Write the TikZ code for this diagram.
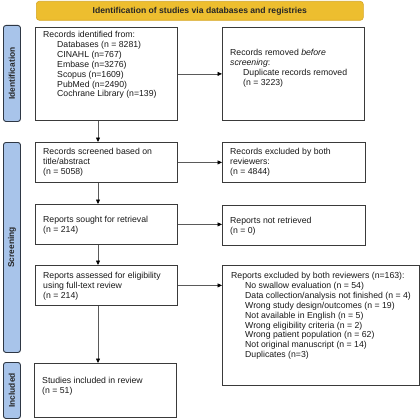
\documentclass[tikz,border=0pt]{standalone}
\usepackage{fontspec}
\setmainfont{Liberation Sans}
\usetikzlibrary{arrows.meta,calc}
\definecolor{bannerfill}{HTML}{EDBE2F}
\definecolor{bannerdraw}{HTML}{D6A624}
\definecolor{sidefill}{HTML}{A8C4EA}
\definecolor{sidedraw}{HTML}{2E3744}
\definecolor{boxdraw}{HTML}{3A3A3A}
\definecolor{arrowgray}{HTML}{5A5A5A}
\tikzset{
  box/.style={draw=boxdraw, line width=0.8pt, fill=white, inner sep=0pt, anchor=north west},
  txt/.style={anchor=north west, inner sep=0pt, align=left, font=\fontsize{8.7}{9.9}\selectfont, text=black!90},
  side/.style={draw=sidedraw, line width=0.9pt, fill=sidefill, rounded corners=2.5pt, inner sep=0pt, anchor=north west},
  sidetxt/.style={rotate=90, inner sep=0pt, font=\fontsize{8.4}{10}\selectfont\bfseries, text=black!85},
  flow/.style={draw=arrowgray, line width=0.7pt, -{Triangle[length=4.5pt,width=4pt,fill=black,color=black]}},
}
\newcommand{\ind}{\hspace*{14pt}}
\begin{document}
\begin{tikzpicture}[x=1pt,y=-1pt]
\useasboundingbox (0,0) rectangle (420,420);
% banner
\node[draw=bannerdraw, line width=0.6pt, fill=bannerfill, rounded corners=3pt, minimum width=327pt, minimum height=19pt, inner sep=0pt, anchor=north west] (banner) at (36,1) {};
\node[inner sep=0pt, font=\fontsize{8.6}{10}\selectfont\bfseries, text=black!85] (bannertxt) at (banner.center) {Identification of studies via databases and registries};
% side labels
\node[side, minimum width=17pt, minimum height=96pt] (sid) at (3,25) {};
\node[sidetxt] (sidt) at (sid.center) {Identification};
\node[side, minimum width=17pt, minimum height=210pt] (sscr) at (3,142) {};
\node[sidetxt] (sscrt) at (sscr.center) {Screening};
\node[side, minimum width=17pt, minimum height=56pt] (sinc) at (3,362) {};
\node[sidetxt] (sinct) at (sinc.center) {Included};
% boxes
\node[box, minimum width=142pt, minimum height=93pt] (b1) at (35,27) {};
\node[box, minimum width=142pt, minimum height=93pt] (b2) at (222,27) {};
\node[box, minimum width=142pt, minimum height=40pt] (b3) at (35,142) {};
\node[box, minimum width=143pt, minimum height=40pt] (b4) at (222,142) {};
\node[box, minimum width=142pt, minimum height=40pt] (b5) at (35,204) {};
\node[box, minimum width=143pt, minimum height=40pt] (b6) at (222,205) {};
\node[box, minimum width=142pt, minimum height=40pt] (b7) at (35,265) {};
\node[box, minimum width=197pt, minimum height=120pt] (b8) at (222,265) {};
\node[box, minimum width=142pt, minimum height=54pt] (b9) at (34,363) {};
% texts
\node[txt] (t1) at (43,31) {Records identified from:\\\ind Databases (n = 8281)\\\ind CINAHL (n=767)\\\ind Embase (n=3276)\\\ind Scopus (n=1609)\\\ind PubMed (n=2490)\\\ind Cochrane Library (n=139)};
\node[txt] (t2) at (230,49) {Records removed \textit{before}\\\textit{screening}:\\\hspace*{13pt}Duplicate records removed\\\hspace*{13pt}(n = 3223)};
\node[txt] (t3) at (43,148) {Records screened based on\\title/abstract\\(n = 5058)};
\node[txt] (t4) at (230,148) {Records excluded by both\\reviewers:\\(n = 4844)};
\node[txt] (t5) at (43,216) {Reports sought for retrieval\\(n = 214)};
\node[txt] (t6) at (230,217) {Reports not retrieved\\(n = 0)};
\node[txt] (t7) at (43,272) {Reports assessed for eligibility\\using full-text review\\(n = 214)};
\node[txt] (t8) at (231,272) {Reports excluded by both reviewers (n=163):\\\ind No swallow evaluation (n = 54)\\\ind Data collection/analysis not finished (n = 4)\\\ind Wrong study design/outcomes (n = 19)\\\ind Not available in English (n = 5)\\\ind Wrong eligibility criteria (n = 2)\\\ind Wrong patient population (n = 62)\\\ind Not original manuscript (n = 14)\\\ind Duplicates (n=3)};
\node[txt] (t9) at (42,377) {Studies included in review\\(n = 51)};
% coordinates for vertical arrows at x=98
\coordinate (c1) at ($(b1.south west)+(63,0)$);
\coordinate (c3t) at ($(b3.north west)+(63,0)$);
\coordinate (c3b) at ($(b3.south west)+(63,0)$);
\coordinate (c5t) at ($(b5.north west)+(63,0)$);
\coordinate (c5b) at ($(b5.south west)+(63,0)$);
\coordinate (c7t) at ($(b7.north west)+(63,0)$);
\coordinate (c7b) at ($(b7.south west)+(63,0)$);
\coordinate (c9t) at ($(b9.north west)+(64,0)$);
% arrows
\draw[flow] (c1) -- (c3t);
\draw[flow] (c3b) -- (c5t);
\draw[flow] (c5b) -- (c7t);
\draw[flow] (c7b) -- (c9t);
\draw[flow] (b1.east) -- (b1.east -| b2.west);
\draw[flow] (b3.east) -- (b3.east -| b4.west);
\draw[flow] (b5.east) -- (b5.east -| b6.west);
\draw[flow] (b7.east) -- (b7.east -| b8.west);
\end{tikzpicture}
\end{document}
